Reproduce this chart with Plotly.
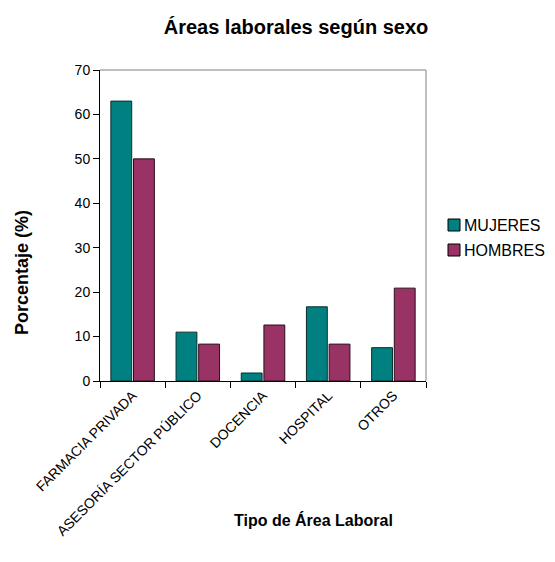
import plotly.graph_objects as go

categories = ["FARMACIA PRIVADA", "ASESORÍA SECTOR PÚBLICO", "DOCENCIA", "HOSPITAL", "OTROS"]
mujeres = [63.0, 11.0, 1.8, 16.7, 7.5]
hombres = [50.0, 8.3, 12.6, 8.3, 20.9]
y_ticks = [0, 10, 20, 30, 40, 50, 60, 70]
series_names = ["MUJERES", "HOMBRES"]

COL_M = "#008080"
COL_H = "#993366"

fig = go.Figure()
fig.add_trace(go.Bar(name=series_names[0], x=categories, y=mujeres,
                     marker=dict(color=COL_M, line=dict(color="#0d2b2b", width=1))))
fig.add_trace(go.Bar(name=series_names[1], x=categories, y=hombres,
                     marker=dict(color=COL_H, line=dict(color="#2b0d1a", width=1))))

# page body has an 8px margin, so the figure is offset by (8, 8)
fig.update_layout(
    width=547, height=554,
    margin=dict(l=92, r=129, t=62, b=181),
    paper_bgcolor="white", plot_bgcolor="white",
    barmode="group", bargap=0.305, bargroupgap=0.08,
    font=dict(family="Liberation Sans, Arial, sans-serif", color="black"),
    title=dict(text="<b>Áreas laborales según sexo</b>", x=0.5265, xanchor="center",
               y=0.9657, yanchor="middle", xref="container", yref="container",
               font=dict(family="Liberation Sans, Arial", size=20, color="black")),
    showlegend=False,
)

fig.update_xaxes(
    type="category", showline=True, linecolor="black", linewidth=1,
    ticks="outside", tickson="boundaries", ticklen=6, tickcolor="black",
    tickangle=-45, tickfont=dict(size=14, color="black"),
    showgrid=False, zeroline=False,
)
fig.update_yaxes(
    range=[0, 70], tickvals=y_ticks, showline=True, linecolor="black", linewidth=1,
    ticks="outside", ticklen=6, tickcolor="black",
    tickfont=dict(size=14, color="black"),
    showgrid=False, zeroline=False,
)

# plot frame (grey top/right)
fig.add_shape(type="line", xref="paper", yref="paper", x0=0, x1=1, y0=1, y1=1,
              line=dict(color="#808080", width=1))
fig.add_shape(type="line", xref="paper", yref="paper", x0=1, x1=1, y0=0, y1=1,
              line=dict(color="#808080", width=1))

# legend (drawn to sit where the original's legend is)
PW, PH = 326.0, 311.0
for i, (name, col) in enumerate(zip(series_names, [COL_M, COL_H])):
    cy = 225 + 25 * i
    fig.add_shape(type="rect", xref="paper", yref="paper",
                  x0=(448 - 100) / PW, x1=(460 - 100) / PW,
                  y0=(381 - cy - 6) / PH, y1=(381 - cy + 6) / PH,
                  fillcolor=col, line=dict(color="black", width=1))
    fig.add_annotation(text=name, xref="paper", yref="paper",
                       x=(462 - 100) / PW, y=(381 - cy) / PH, showarrow=False,
                       xanchor="left", yanchor="middle",
                       font=dict(family="Liberation Sans, Arial", size=16, color="black"))

fig.add_annotation(text="<b>Tipo de Área Laboral</b>", xref="paper", yref="paper",
                   x=(313 - 100) / PW, y=-(520 - 381) / PH, showarrow=False,
                   xanchor="center", yanchor="middle",
                   font=dict(family="Liberation Sans, Arial", size=16, color="black"))
fig.add_annotation(text="<b>Porcentaje (%)</b>", xref="paper", yref="paper",
                   x=-(100 - 22) / PW, y=(381 - 273) / PH, showarrow=False,
                   textangle=-90, xanchor="center", yanchor="middle",
                   font=dict(family="Liberation Sans, Arial", size=18, color="black"))

fig.write_html("out.html")
